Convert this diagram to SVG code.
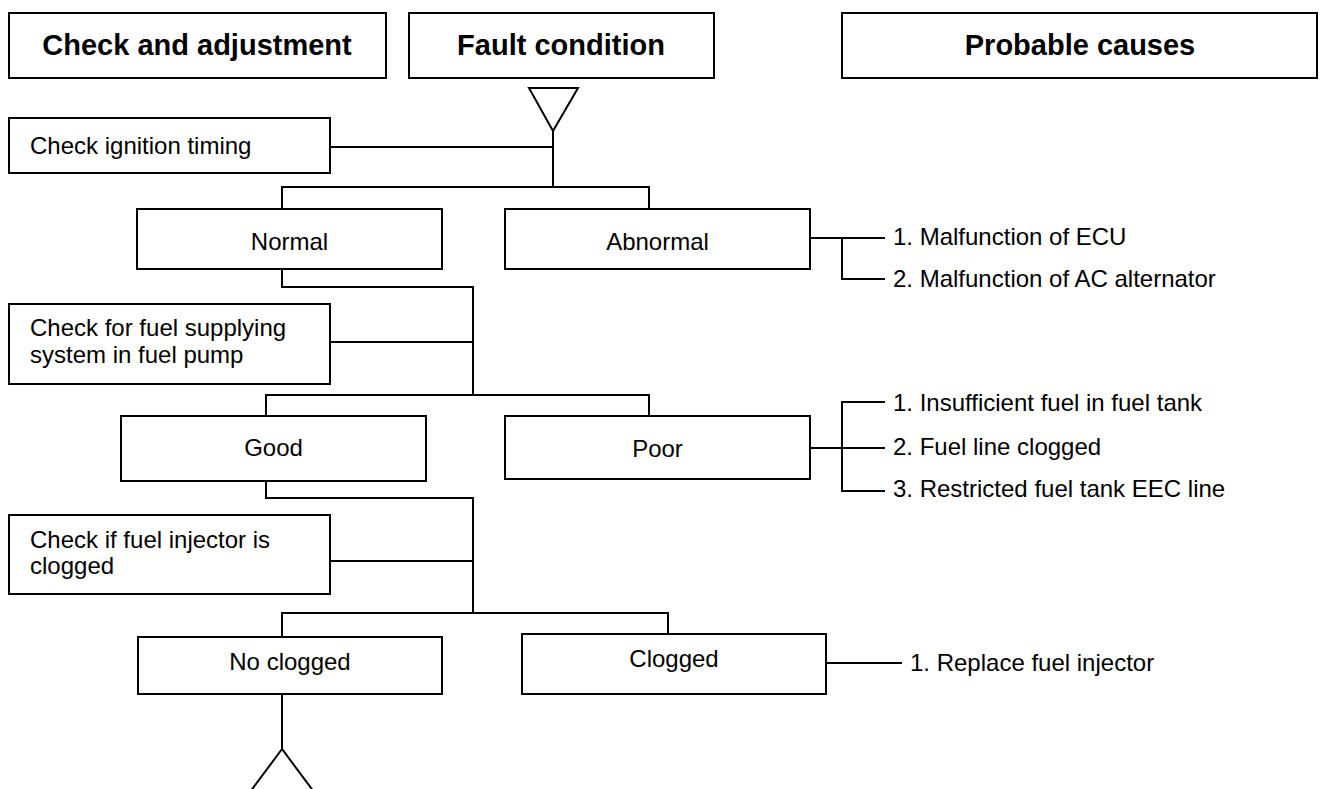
<svg xmlns="http://www.w3.org/2000/svg" width="1322" height="789" viewBox="0 0 1322 789">
<style>
.box{fill:#fff;stroke:#000;stroke-width:2}
.hd{font-family:"Liberation Sans",Arial,sans-serif;font-size:29px;font-weight:bold;fill:#000;text-anchor:middle}
.t{font-family:"Liberation Sans",Arial,sans-serif;font-size:24px;fill:#000}
.c{text-anchor:middle}
.ln{fill:none;stroke:#000;stroke-width:2}
</style>
<rect width="1322" height="789" fill="#fff"/>
<g id="connectors">
<polygon class="ln" points="529,88 578,88 553,131"/>
<polyline class="ln" points="553,131 553,187"/>
<polyline class="ln" points="330,147 553,147"/>
<polyline class="ln" points="282,209 282,187 649,187 649,209"/>
<polyline class="ln" points="810,238 885,238"/>
<polyline class="ln" points="842,238 842,279 885,279"/>
<polyline class="ln" points="282,269 282,287 473,287 473,395"/>
<polyline class="ln" points="330,342 473,342"/>
<polyline class="ln" points="266,416 266,395 649,395 649,416"/>
<polyline class="ln" points="810,448 885,448"/>
<polyline class="ln" points="885,402 842,402 842,491 885,491"/>
<polyline class="ln" points="266,481 266,498 473,498 473,613"/>
<polyline class="ln" points="330,561 473,561"/>
<polyline class="ln" points="282,637 282,613 668,613 668,634"/>
<polyline class="ln" points="826,663 902,663"/>
<polyline class="ln" points="282,694 282,749"/>
<polygon class="ln" points="282,749 244,800 320,800"/>
</g>
<g id="h1"><rect class="box" x="9" y="13" width="377" height="65"/><text class="hd" x="197" y="55">Check and adjustment</text></g>
<g id="h2"><rect class="box" x="409" y="13" width="305" height="65"/><text class="hd" x="561" y="55">Fault condition</text></g>
<g id="h3"><rect class="box" x="842" y="13" width="475" height="65"/><text class="hd" x="1080" y="55">Probable causes</text></g>
<g id="n-ignition"><rect class="box" x="9" y="118" width="321" height="55"/><text class="t" x="30" y="154">Check ignition timing</text></g>
<g id="n-normal"><rect class="box" x="137" y="209" width="305" height="60"/><text class="t c" x="289.5" y="250">Normal</text></g>
<g id="n-abnormal"><rect class="box" x="505" y="209" width="305" height="60"/><text class="t c" x="657.5" y="250">Abnormal</text></g>
<g id="c-abnormal"><text class="t" x="893" y="245">1. Malfunction of ECU</text><text class="t" x="893" y="287">2. Malfunction of AC alternator</text></g>
<g id="n-fuelsupply"><rect class="box" x="9" y="304" width="321" height="80"/><text class="t" x="30" y="336">Check for fuel supplying</text><text class="t" x="30" y="363">system in fuel pump</text></g>
<g id="n-good"><rect class="box" x="121" y="416" width="305" height="65"/><text class="t c" x="273.5" y="456">Good</text></g>
<g id="n-poor"><rect class="box" x="505" y="416" width="305" height="63"/><text class="t c" x="657.5" y="457">Poor</text></g>
<g id="c-poor"><text class="t" x="893" y="411">1. Insufficient fuel in fuel tank</text><text class="t" x="893" y="455">2. Fuel line clogged</text><text class="t" x="893" y="497">3. Restricted fuel tank EEC line</text></g>
<g id="n-injector"><rect class="box" x="9" y="515" width="321" height="79"/><text class="t" x="30" y="548">Check if fuel injector is</text><text class="t" x="30" y="574">clogged</text></g>
<g id="n-noclogged"><rect class="box" x="138" y="637" width="304" height="57"/><text class="t c" x="290" y="670">No clogged</text></g>
<g id="n-clogged"><rect class="box" x="522" y="634" width="304" height="60"/><text class="t c" x="674" y="667">Clogged</text></g>
<g id="c-clogged"><text class="t" x="910" y="671">1. Replace fuel injector</text></g>
</svg>
